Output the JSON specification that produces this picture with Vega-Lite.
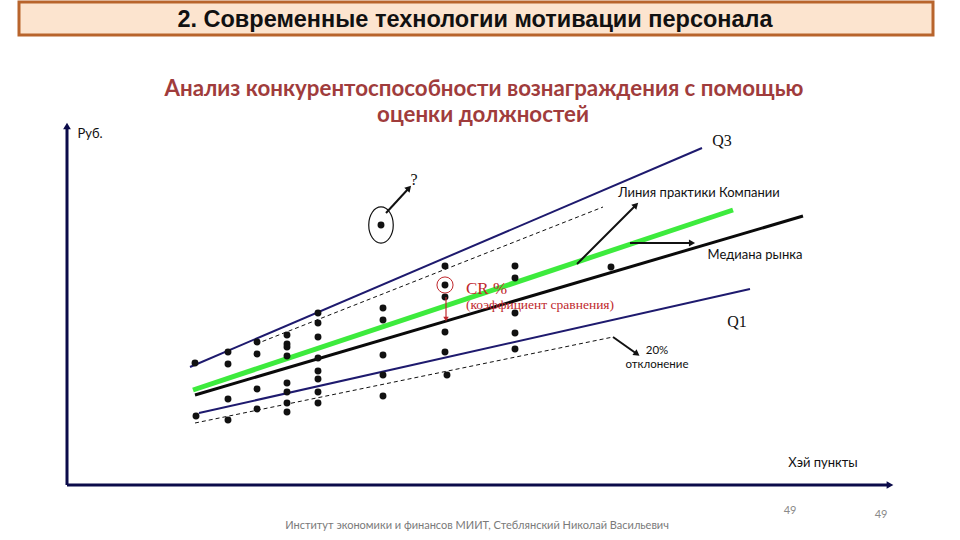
{
  "$schema": "https://vega.github.io/schema/vega-lite/v6.json",
  "width": 960,
  "height": 540,
  "autosize": {"type": "fit", "contains": "padding"},
  "padding": 0,
  "background": "white",
  "config": {"view": {"stroke": null}},
  "datasets": {
    "box": [{"x": 19, "x2": 933, "y": 538, "y2": 505}],
    "dots": [
      {"x": 195, "y": 177}, {"x": 228, "y": 188}, {"x": 228, "y": 176}, {"x": 228, "y": 141}, {"x": 228, "y": 120},
      {"x": 196, "y": 124},
      {"x": 257, "y": 198}, {"x": 257, "y": 186}, {"x": 257, "y": 151}, {"x": 257, "y": 131},
      {"x": 287, "y": 205}, {"x": 287, "y": 196}, {"x": 287, "y": 193}, {"x": 287, "y": 184},
      {"x": 287, "y": 157}, {"x": 287, "y": 148}, {"x": 287, "y": 137}, {"x": 287, "y": 128},
      {"x": 318, "y": 227}, {"x": 318, "y": 217}, {"x": 318, "y": 203}, {"x": 318, "y": 182},
      {"x": 318, "y": 169}, {"x": 318, "y": 161}, {"x": 318, "y": 148}, {"x": 318, "y": 137},
      {"x": 383, "y": 232}, {"x": 383, "y": 220}, {"x": 383, "y": 185}, {"x": 383, "y": 165}, {"x": 383, "y": 144},
      {"x": 445, "y": 274}, {"x": 445, "y": 255}, {"x": 445, "y": 243}, {"x": 445, "y": 208}, {"x": 445, "y": 188}, {"x": 447, "y": 165},
      {"x": 515, "y": 274}, {"x": 515, "y": 262}, {"x": 515, "y": 227}, {"x": 515, "y": 207}, {"x": 515, "y": 191},
      {"x": 611, "y": 273},
      {"x": 381, "y": 315}
    ],
    "lines": [
      {"line": "Q3", "x": 190, "y": 173, "x2": 702, "y2": 392},
      {"line": "Q1", "x": 199, "y": 127, "x2": 750, "y2": 251},
      {"line": "up20", "x": 256, "y": 196, "x2": 603, "y2": 333},
      {"line": "low20", "x": 195, "y": 117, "x2": 613, "y2": 203},
      {"line": "company", "x": 193, "y": 150, "x2": 733, "y2": 330},
      {"line": "median", "x": 195, "y": 145, "x2": 803, "y2": 324}
    ],
    "axes": [
      {"x": 67, "y": 55, "x2": 67, "y2": 414},
      {"x": 67, "y": 55, "x2": 890, "y2": 55}
    ],
    "arrows": [
      {"x": 386, "y": 327, "x2": 409, "y2": 352},
      {"x": 577, "y": 276, "x2": 636, "y2": 335},
      {"x": 630, "y": 297, "x2": 692, "y2": 297},
      {"x": 613, "y": 203, "x2": 637, "y2": 186}
    ],
    "redarrow": [{"x": 446, "y": 243, "x2": 446, "y2": 221}],
    "labels": [
      {"x": 90, "y": 406, "text": "Руб.", "align": "left"},
      {"x": 699, "y": 347, "text": "Линия практики Компании", "align": "center"},
      {"x": 755, "y": 285, "text": "Медиана рынка", "align": "center"},
      {"x": 823, "y": 77, "text": "Хэй пункты", "align": "center"}
    ],
    "labels2": [
      {"x": 657, "y": 189, "text": "20%"},
      {"x": 657, "y": 175, "text": "отклонение"}
    ],
    "serif": [
      {"x": 722, "y": 399, "text": "Q3"},
      {"x": 737, "y": 218, "text": "Q1"},
      {"x": 414, "y": 360, "text": "?"}
    ]
  },
  "encoding": {
    "x": {"field": "x", "type": "quantitative", "scale": {"domain": [0, 960], "nice": false, "zero": false}, "axis": null},
    "y": {"field": "y", "type": "quantitative", "scale": {"domain": [0, 540], "nice": false, "zero": false}, "axis": null}
  },
  "layer": [
    {
      "data": {"name": "box"},
      "mark": {"type": "rect", "fill": "#FCE4CF", "stroke": "#B8642C", "strokeWidth": 3},
      "encoding": {"x2": {"field": "x2"}, "y2": {"field": "y2"}}
    },
    {
      "data": {"values": [{"x": 475, "y": 520, "text": "2. Современные технологии мотивации персонала"}]},
      "mark": {"type": "text", "font": "Liberation Sans", "fontWeight": "bold", "fontSize": 23.5, "color": "#111111", "baseline": "middle"},
      "encoding": {"text": {"field": "text"}}
    },
    {
      "data": {"values": [
        {"x": 484, "y": 451, "text": "Анализ конкурентоспособности вознаграждения с помощью"},
        {"x": 483, "y": 425, "text": "оценки должностей"}
      ]},
      "mark": {"type": "text", "font": "Lato", "fontWeight": "bold", "fontSize": 22.3, "color": "#A03C3C", "baseline": "middle"},
      "encoding": {"text": {"field": "text"}}
    },
    {
      "data": {"name": "axes"},
      "mark": {"type": "rule", "color": "#0B0B4A", "strokeWidth": 3},
      "encoding": {"x2": {"field": "x2"}, "y2": {"field": "y2"}}
    },
    {
      "data": {"name": "axes"},
      "transform": [{"calculate": "atan2(datum.x2 - datum.x, datum.y2 - datum.y) * 180 / PI", "as": "angle"}],
      "mark": {"type": "point", "shape": "triangle-up", "filled": true, "color": "#0B0B4A", "size": 60, "opacity": 1},
      "encoding": {"x": {"field": "x2", "type": "quantitative"}, "y": {"field": "y2", "type": "quantitative"}, "angle": {"field": "angle", "type": "quantitative", "scale": null}}
    },
    {
      "data": {"name": "lines"},
      "transform": [{"filter": "datum.line == 'Q3' || datum.line == 'Q1'"}],
      "mark": {"type": "rule", "color": "#1E1A6E", "strokeWidth": 2},
      "encoding": {"x2": {"field": "x2"}, "y2": {"field": "y2"}}
    },
    {
      "data": {"name": "lines"},
      "transform": [{"filter": "datum.line == 'up20' || datum.line == 'low20'"}],
      "mark": {"type": "rule", "color": "#111111", "strokeWidth": 1, "strokeDash": [4, 3]},
      "encoding": {"x2": {"field": "x2"}, "y2": {"field": "y2"}}
    },
    {
      "data": {"name": "lines"},
      "transform": [{"filter": "datum.line == 'company'"}],
      "mark": {"type": "rule", "color": "#3DEB3D", "strokeWidth": 5},
      "encoding": {"x2": {"field": "x2"}, "y2": {"field": "y2"}}
    },
    {
      "data": {"name": "lines"},
      "transform": [{"filter": "datum.line == 'median'"}],
      "mark": {"type": "rule", "color": "#0A0A0A", "strokeWidth": 3},
      "encoding": {"x2": {"field": "x2"}, "y2": {"field": "y2"}}
    },
    {
      "data": {"name": "dots"},
      "mark": {"type": "point", "shape": "circle", "filled": true, "color": "#111111", "size": 48, "opacity": 1}
    },
    {
      "data": {"values": [{"x": 381, "y": 315}]},
      "mark": {"type": "point", "shape": "M -0.68 0 A 0.68 1 0 1 0 0.68 0 A 0.68 1 0 1 0 -0.68 0 Z", "filled": false, "color": "#111111", "strokeWidth": 1.2, "size": 1300, "opacity": 1}
    },
    {
      "data": {"values": [{"x": 445, "y": 255}]},
      "mark": {"type": "point", "shape": "circle", "filled": false, "color": "#C0282D", "strokeWidth": 1, "size": 260, "opacity": 1}
    },
    {
      "data": {"name": "arrows"},
      "mark": {"type": "rule", "color": "#111111", "strokeWidth": 2},
      "encoding": {"x2": {"field": "x2"}, "y2": {"field": "y2"}}
    },
    {
      "data": {"name": "arrows"},
      "transform": [{"calculate": "atan2(datum.x2 - datum.x, datum.y2 - datum.y) * 180 / PI", "as": "angle"}],
      "mark": {"type": "point", "shape": "triangle-up", "filled": true, "color": "#111111", "size": 50, "opacity": 1},
      "encoding": {"x": {"field": "x2", "type": "quantitative"}, "y": {"field": "y2", "type": "quantitative"}, "angle": {"field": "angle", "type": "quantitative", "scale": null}}
    },
    {
      "data": {"name": "redarrow"},
      "mark": {"type": "rule", "color": "#C0282D", "strokeWidth": 1.2},
      "encoding": {"x2": {"field": "x2"}, "y2": {"field": "y2"}}
    },
    {
      "data": {"name": "redarrow"},
      "mark": {"type": "point", "shape": "triangle-down", "filled": true, "color": "#C0282D", "size": 30, "opacity": 1},
      "encoding": {"x": {"field": "x2", "type": "quantitative"}, "y": {"field": "y2", "type": "quantitative"}}
    },
    {
      "data": {"name": "labels"},
      "mark": {"type": "text", "font": "Lato", "fontSize": 13, "color": "#111111", "baseline": "middle"},
      "encoding": {"text": {"field": "text"}, "align": {"field": "align", "type": "nominal", "scale": null}}
    },
    {
      "data": {"name": "labels2"},
      "mark": {"type": "text", "font": "Lato", "fontSize": 11.5, "color": "#111111", "baseline": "middle", "align": "center"},
      "encoding": {"text": {"field": "text"}}
    },
    {
      "data": {"name": "serif"},
      "mark": {"type": "text", "font": "Liberation Serif", "fontSize": 16, "color": "#111111", "baseline": "middle", "align": "center"},
      "encoding": {"text": {"field": "text"}}
    },
    {
      "data": {"values": [{"x": 466, "y": 251, "text": "CR %"}]},
      "mark": {"type": "text", "font": "Liberation Serif", "fontSize": 17, "color": "#C0282D", "baseline": "middle", "align": "left"},
      "encoding": {"text": {"field": "text"}}
    },
    {
      "data": {"values": [{"x": 466, "y": 235, "text": "(коэффициент сравнения)"}]},
      "mark": {"type": "text", "font": "Liberation Serif", "fontSize": 13.5, "color": "#C0282D", "baseline": "middle", "align": "left"},
      "encoding": {"text": {"field": "text"}}
    },
    {
      "data": {"values": [{"x": 477, "y": 14, "text": "Институт экономики и финансов МИИТ, Стеблянский Николай Васильевич"}]},
      "mark": {"type": "text", "font": "Lato", "fontSize": 11, "color": "#7A7A7A", "baseline": "middle", "align": "center"},
      "encoding": {"text": {"field": "text"}}
    },
    {
      "data": {"values": [{"x": 790, "y": 29, "text": "49"}, {"x": 881, "y": 25, "text": "49"}]},
      "mark": {"type": "text", "font": "Lato", "fontSize": 11, "color": "#8A8A8A", "baseline": "middle", "align": "center"},
      "encoding": {"text": {"field": "text"}}
    }
  ]
}
